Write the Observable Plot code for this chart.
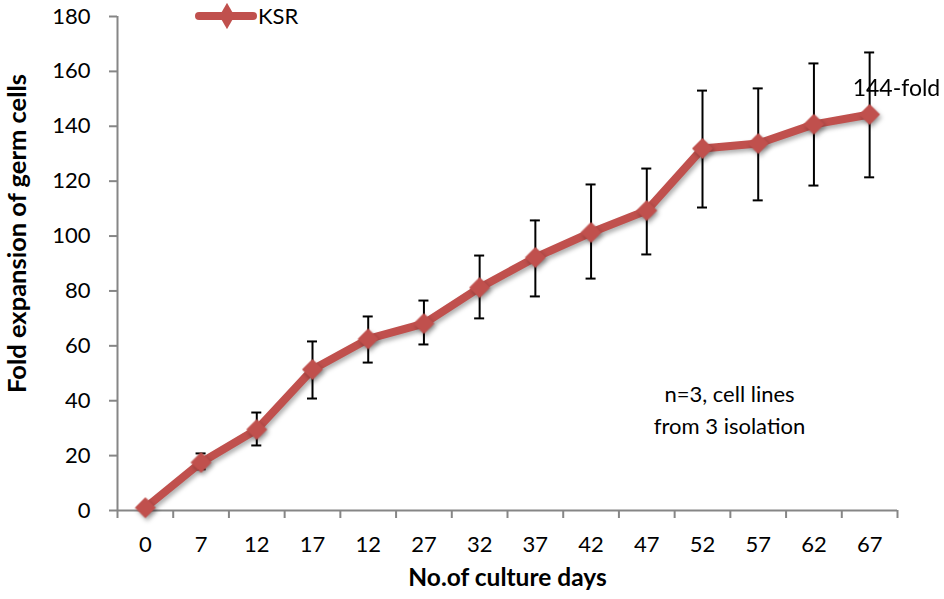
<!DOCTYPE html>
<html>
<head>
<meta charset="utf-8">
<script src="https://cdn.jsdelivr.net/npm/d3@7"></script>
<script src="https://cdn.jsdelivr.net/npm/@observablehq/plot@0.6"></script>
<style>
  html, body { margin: 0; padding: 0; background: #fff; }
  #wrap { position: relative; width: 944px; height: 599px; font-family: Lato, "Open Sans", sans-serif; }
  #legend { position: absolute; left: 192px; top: 2px; display: flex; align-items: center; font-size: 22px; color: #000; }
</style>
</head>
<body>
<div id="wrap">
  <div id="chart"></div>
  <div id="legend"></div>
</div>
<script>
// ---- data ----
const dayLabels = ["0","7","12","17","12","27","32","37","42","47","52","57","62","67"];
const foldValues = [1, 17.5, 29.5, 51.4, 62.5, 68.1, 81.2, 92.2, 101.3, 109.3, 131.9, 133.7, 140.7, 144.3];
const errorHigh = [1.5, 20.8, 35.7, 61.6, 70.7, 76.5, 92.9, 105.7, 118.8, 124.6, 153.0, 153.8, 162.9, 166.9];
const errorLow  = [0.5, 15.0, 23.7, 40.8, 53.9, 60.5, 70.0, 78.0, 84.5, 93.3, 110.4, 113.0, 118.4, 121.4];
const yTicks = [0, 20, 40, 60, 80, 100, 120, 140, 160, 180];
const seriesName = "KSR";
const endNote = "144-fold";
const sideNote = "n=3, cell lines\nfrom 3 isolation";
const xTitle = "No.of culture days";
const yTitle = "Fold expansion of germ cells";

const red = "#C0504D";
const gray = "#868686";

const rows = dayLabels.map((d, i) => ({i, day: d, v: foldValues[i], hi: errorHigh[i], lo: errorLow[i]}));
const bounds = d3.range(dayLabels.length + 1).map(k => k - 0.5);
const capHalf = 0.09;

const chart = Plot.plot({
  width: 944,
  height: 599,
  marginLeft: 117,
  marginRight: 47,
  marginTop: 16,
  marginBottom: 89,
  style: {fontFamily: "Lato, 'Open Sans', sans-serif", color: "#000", background: "#fff"},
  x: {type: "linear", domain: [-0.5, dayLabels.length - 0.5], axis: null},
  y: {domain: [0, 180], axis: null},
  marks: [
    // axes lines
    Plot.ruleY([0], {stroke: gray, strokeWidth: 2}),
    Plot.ruleX([-0.5], {stroke: gray, strokeWidth: 2}),
    // x tick marks at category boundaries
    Plot.axisX(bounds, {tickSize: 8, tickFormat: () => "", stroke: gray, strokeWidth: 2, label: null}),
    // x labels at category centers
    Plot.axisX(d3.range(dayLabels.length), {tickSize: 0, tickPadding: 26, tickFormat: i => dayLabels[i], fontSize: 22, label: null}),
    // y axis
    Plot.axisY(yTicks, {tickSize: 8, tickPadding: 19, fontSize: 22, stroke: gray, strokeWidth: 2, label: null}),
    // titles
    Plot.text([xTitle], {frameAnchor: "bottom", dy: 75, fontSize: 24.5, fontWeight: "bold"}),
    Plot.text([yTitle], {frameAnchor: "left", textAnchor: "middle", rotate: -90, dx: -100, dy: -30, fontSize: 25.5, fontWeight: "bold"}),
    // error bars
    Plot.ruleX(rows.filter(d => d.i > 0), {x: "i", y1: "lo", y2: "hi", stroke: "#000", strokeWidth: 2}),
    Plot.ruleY(rows.filter(d => d.i > 0), {y: "hi", x1: d => d.i - capHalf, x2: d => d.i + capHalf, stroke: "#000", strokeWidth: 2}),
    Plot.ruleY(rows.filter(d => d.i > 0), {y: "lo", x1: d => d.i - capHalf, x2: d => d.i + capHalf, stroke: "#000", strokeWidth: 2}),
    // series
    Plot.line(rows, {x: "i", y: "v", stroke: red, strokeWidth: 8, strokeLinejoin: "round", strokeLinecap: "round"}),
    Plot.dot(rows, {x: "i", y: "v", symbol: "diamond2", r: 9, fill: red, stroke: red, strokeWidth: 1}),
    // annotations
    Plot.text(rows.slice(-1), {x: "i", y: "v", text: () => endNote, textAnchor: "start", dx: -17, dy: -26, fontSize: 23}),
    Plot.text([sideNote], {frameAnchor: "middle", dx: 222, dy: 144, fontSize: 22, lineHeight: 1.45})
  ]
});

// subtle shadow on series like the original
d3.select(chart).selectAll("g[aria-label='line'], g[aria-label='dot']")
  .style("filter", "drop-shadow(2px 3px 2px rgba(0,0,0,0.3))");

document.getElementById("chart").appendChild(chart);

// legend (swatch + label), built from the series name
const lg = d3.select("#legend");
const sw = lg.append("svg").attr("width", 66).attr("height", 26);
sw.append("line").attr("x1", 7).attr("x2", 61).attr("y1", 13).attr("y2", 13)
  .attr("stroke", red).attr("stroke-width", 8).attr("stroke-linecap", "round");
sw.append("path").attr("d", d3.symbol(d3.symbolDiamond, 200)()).attr("transform", "translate(35,13)").attr("fill", red);
lg.append("span").text(seriesName).style("margin-left", "0px");
</script>
</body>
</html>
